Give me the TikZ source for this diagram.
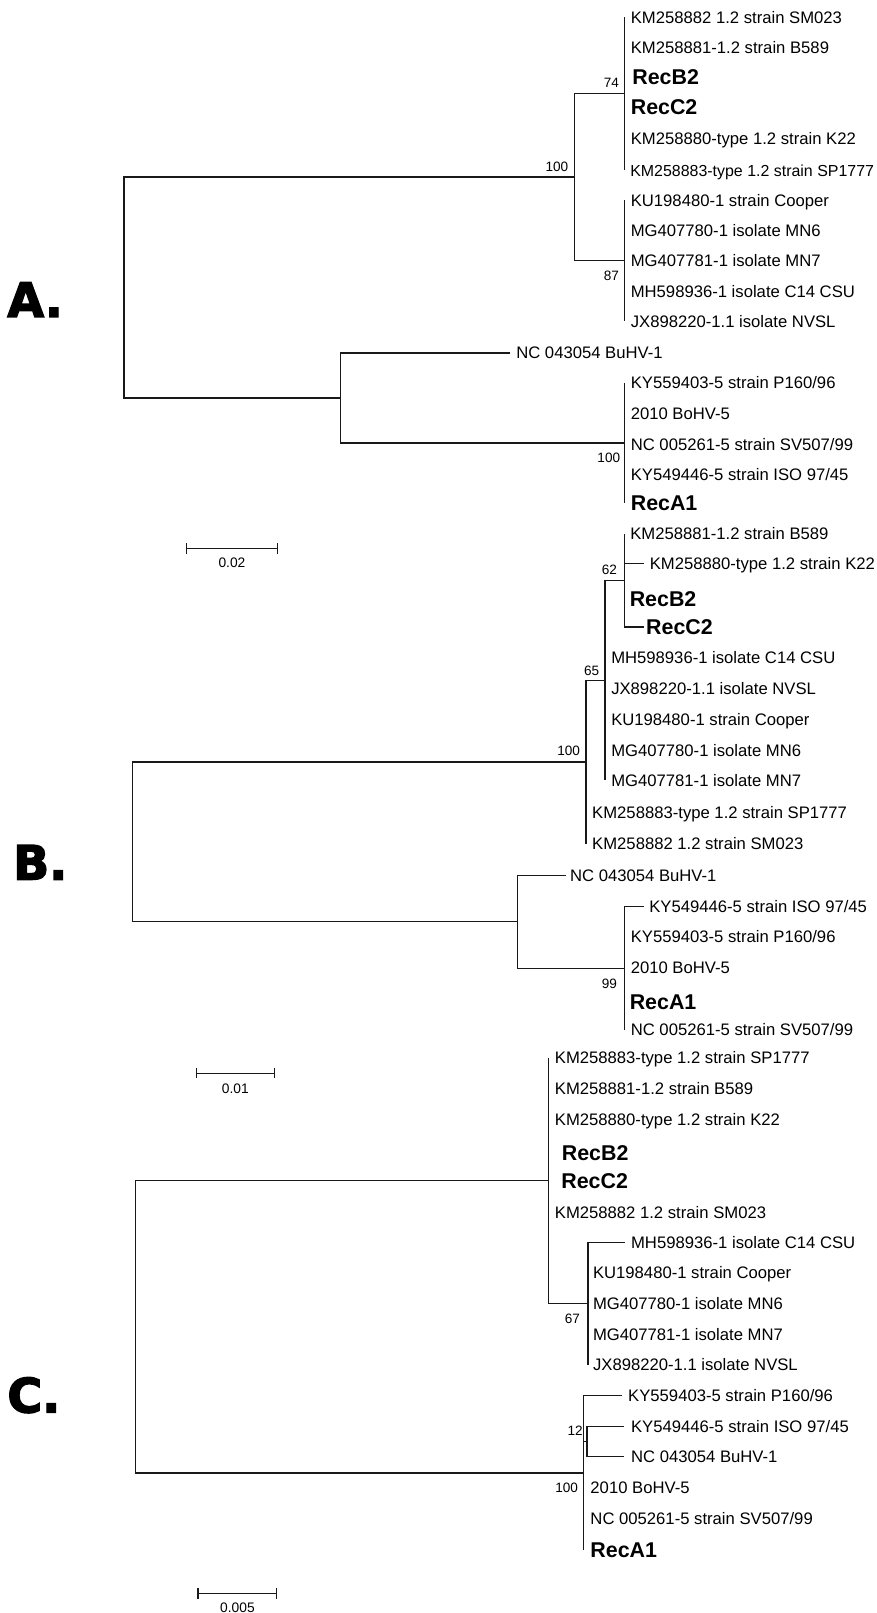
\documentclass[tikz,border=0pt]{standalone}
\usepackage{fontspec}
\setmainfont{Liberation Sans}
\newfontfamily\bigfont{DejaVu Sans Bold}[FakeBold=3]
\newcommand\leaffont{\fontsize{16.2}{18}\selectfont}
\newcommand\edgefont{\fontsize{15.5}{18}\selectfont}
\newcommand\recfont{\fontsize{20.8}{22}\selectfont\bfseries}
\newcommand\bsfont{\fontsize{13.2}{14}\selectfont}
\newcommand\sbfont{\fontsize{13.4}{15}\selectfont}
\newcommand\panelfont{\fontsize{46}{48}\selectfont\bigfont}
\begin{document}
\begin{tikzpicture}[x=1pt,y=-1pt,
  br/.style={line width=1.3pt, draw=black!90},
  leaf/.style={anchor=west, inner sep=0pt, font=\leaffont, text height=11.6pt, text depth=0pt},
  rec/.style={anchor=west, inner sep=0pt, font=\recfont, text height=14.9pt, text depth=0pt},
  boot/.style={anchor=east, inner sep=0pt, font=\bsfont, text height=9.5pt, text depth=0pt},
  sblab/.style={anchor=center, inner sep=0pt, font=\sbfont, text height=9.6pt, text depth=0pt},
  panel/.style={anchor=base west, inner sep=0pt, font=\panelfont}]
\useasboundingbox[fill=white] (0,0) rectangle (852,1568);

% ================= Tree A =================
\node[panel] (pA) at (7,308) {A.};
\coordinate (rootA) at (120.5,279.5);
\coordinate (uA) at (558.5,172.2);
\coordinate (lA) at (330.7,386.8);
\coordinate (n74) at (607,91.1);
\coordinate (n87) at (607,253.4);
\coordinate (n100a) at (607,430.6);
\draw[br] (rootA) |- (uA);
\draw[br] (rootA) |- (lA);
\draw[br] (uA) |- (n74);
\draw[br] (uA) |- (n87);
\draw[br] (lA) |- (n100a);
% 74 clade
\coordinate (a1) at (607,16.9);   \node[leaf] (ta1) at (613,16.9) {KM258882 1.2 strain SM023};
\coordinate (a2) at (607,46.4);   \node[leaf] (ta2) at (613,46.4) {KM258881-1.2 strain B589};
\coordinate (a3) at (607,74.5);   \node[rec]  (ta3) at (614.5,74.5) {RecB2};
\coordinate (a4) at (607,104);    \node[rec]  (ta4) at (613,104) {RecC2};
\coordinate (a5) at (607,134.5);  \node[leaf] (ta5) at (613,134.5) {KM258880-type 1.2 strain K22};
\coordinate (a6) at (607,165.3);  \node[leaf, font=\edgefont] (ta6) at (612.5,165.3) {KM258883-type 1.2 strain SP1777};
\draw[br] (n74) |- (a1);
\draw[br] (n74) |- (a6);
% 87 clade
\coordinate (a7) at (607,194.5);  \node[leaf] (ta7) at (613,194.5) {KU198480-1 strain Cooper};
\coordinate (a8) at (607,223.7);  \node[leaf] (ta8) at (613,223.7) {MG407780-1 isolate MN6};
\coordinate (a9) at (607,252.9);  \node[leaf] (ta9) at (613,252.9) {MG407781-1 isolate MN7};
\coordinate (a10) at (607,283);   \node[leaf] (ta10) at (613,283) {MH598936-1 isolate C14 CSU};
\coordinate (a11) at (607,312.2); \node[leaf] (ta11) at (613,312.2) {JX898220-1.1 isolate NVSL};
\draw[br] (n87) |- (a7);
\draw[br] (n87) |- (a11);
% lower
\coordinate (aBu) at (496,343);   \node[leaf] (taBu) at (501.7,343) {NC 043054 BuHV-1};
\draw[br] (lA) |- (aBu);
\coordinate (a12) at (607,372.2); \node[leaf] (ta12) at (613,372.2) {KY559403-5 strain P160/96};
\coordinate (a13) at (607,402);   \node[leaf] (ta13) at (613,402) {2010 BoHV-5};
\coordinate (a14) at (607,431.8); \node[leaf] (ta14) at (613,431.8) {NC 005261-5 strain SV507/99};
\coordinate (a15) at (607,461);   \node[leaf] (ta15) at (613,461) {KY549446-5 strain ISO 97/45};
\coordinate (a16) at (607,489);   \node[rec]  (ta16) at (613,489) {RecA1};
\draw[br] (n100a) |- (a12);
\draw[br] (n100a) |- (a16);
% bootstrap A
\node[boot] (bA1) at (552.5,161.5) {100};
\node[boot] (bA2) at (601.8,80.4) {74};
\node[boot] (bA3) at (601.8,267.8) {87};
\node[boot] (bA4) at (603,444.8) {100};
% scale A
\coordinate (sA1) at (181.5,533.3);
\coordinate (sA2) at (269.6,533.3);
\draw[br] (sA1) -- (sA2);
\draw[br] ([yshift=5pt]sA1) -- ([yshift=-5pt]sA1);
\draw[br] ([yshift=5pt]sA2) -- ([yshift=-5pt]sA2);
\node[sblab] (sAl) at (225.5,547.2) {0.02};

% ================= Tree B =================
\node[panel] (pB) at (12.6,855) {B.};
\coordinate (rootB) at (129,818);
\coordinate (uB) at (569.5,740.8);
\coordinate (lB) at (503,896.1);
\coordinate (n65) at (588,661.3);
\coordinate (n62) at (607,564.1);
\coordinate (n99) at (607,941.2);
\draw[br] (rootB) |- (uB);
\draw[br] (rootB) |- (lB);
\draw[br] (uB) |- (n65);
\draw[br] (n65) |- (n62);
\draw[br] (lB) |- (n99);
% 62 clade
\coordinate (b1) at (607,518.7);  \node[leaf] (tb1) at (612.5,518.7) {KM258881-1.2 strain B589};
\coordinate (b2) at (626,547.9);  \node[leaf] (tb2) at (631.5,547.9) {KM258880-type 1.2 strain K22};
\coordinate (b3) at (607,581.9);  \node[rec]  (tb3) at (612,581.9) {RecB2};
\coordinate (b4) at (626,609.5);  \node[rec]  (tb4) at (628,609.5) {RecC2};
\draw[br] (n62) |- (b1);
\draw[br] (n62) |- (b2);
\draw[br] (n62) |- (b4);
% 65 clade leaves
\coordinate (b5) at (588,638.7);  \node[leaf] (tb5) at (594,638.7) {MH598936-1 isolate C14 CSU};
\coordinate (b6) at (588,669.5);  \node[leaf] (tb6) at (594,669.5) {JX898220-1.1 isolate NVSL};
\coordinate (b7) at (588,699.3);  \node[leaf] (tb7) at (594,699.3) {KU198480-1 strain Cooper};
\coordinate (b8) at (588,729.4);  \node[leaf] (tb8) at (594,729.4) {MG407780-1 isolate MN6};
\coordinate (b9) at (588,758.6);  \node[leaf] (tb9) at (594,758.6) {MG407781-1 isolate MN7};
\draw[br] (n65) |- (b9);
% 100 node leaves
\coordinate (b10) at (569.5,789.4); \node[leaf] (tb10) at (575.5,789.4) {KM258883-type 1.2 strain SP1777};
\coordinate (b11) at (569.5,820.2); \node[leaf] (tb11) at (575.5,820.2) {KM258882 1.2 strain SM023};
\draw[br] (uB) |- (b11);
% lower
\coordinate (bBu) at (550,851);   \node[leaf] (tbBu) at (554,851) {NC 043054 BuHV-1};
\draw[br] (lB) |- (bBu);
\coordinate (b12) at (626,881.2); \node[leaf] (tb12) at (631,881.2) {KY549446-5 strain ISO 97/45};
\coordinate (b13) at (607,910.3); \node[leaf] (tb13) at (613,910.3) {KY559403-5 strain P160/96};
\coordinate (b14) at (607,940.8); \node[leaf] (tb14) at (613,940.8) {2010 BoHV-5};
\coordinate (b15) at (607,974.2); \node[rec]  (tb15) at (612,974.2) {RecA1};
\coordinate (b16) at (607,1001.1);\node[leaf] (tb16) at (613,1001.1) {NC 005261-5 strain SV507/99};
\draw[br] (n99) |- (b12);
\draw[br] (n99) |- (b16);
% bootstrap B
\node[boot] (bB1) at (600,553.7) {62};
\node[boot] (bB2) at (582.6,651.7) {65};
\node[boot] (bB3) at (564,730) {100};
\node[boot] (bB4) at (600,955.7) {99};
% scale B
\coordinate (sB1) at (191,1043.3);
\coordinate (sB2) at (266.7,1043.3);
\draw[br] (sB1) -- (sB2);
\draw[br] ([yshift=5pt]sB1) -- ([yshift=-5pt]sB1);
\draw[br] ([yshift=5pt]sB2) -- ([yshift=-5pt]sB2);
\node[sblab] (sBl) at (228.8,1057.8) {0.01};

% ================= Tree C =================
\node[panel] (pC) at (7,1373) {C.};
\coordinate (rootC) at (131.9,1290);
\coordinate (uC) at (533,1147.7);
\coordinate (lC) at (567,1431.9);
\coordinate (n67) at (571.5,1267.1);
\coordinate (n12) at (570.6,1401.5);
\draw[br] (rootC) |- (uC);
\draw[br] (rootC) |- (lC);
\draw[br] (uC) |- (n67);
\draw[br] (lC) |- (n12);
% upper leaves
\coordinate (c1) at (533,1028.3); \node[leaf] (tc1) at (539.2,1028.3) {KM258883-type 1.2 strain SP1777};
\coordinate (c2) at (533,1058.5); \node[leaf] (tc2) at (539.2,1058.5) {KM258881-1.2 strain B589};
\coordinate (c3) at (533,1088.6); \node[leaf] (tc3) at (539.2,1088.6) {KM258880-type 1.2 strain K22};
\coordinate (c4) at (533,1121.1); \node[rec]  (tc4) at (546,1121.1) {RecB2};
\coordinate (c5) at (533,1148.3); \node[rec]  (tc5) at (545.5,1148.3) {RecC2};
\coordinate (c6) at (533,1178.4); \node[leaf] (tc6) at (539.2,1178.4) {KM258882 1.2 strain SM023};
\draw[br] (uC) |- (c1);
% 67 clade
\coordinate (c7) at (607.6,1207.6); \node[leaf] (tc7) at (613.3,1207.6) {MH598936-1 isolate C14 CSU};
\coordinate (c8) at (571.5,1237.4); \node[leaf] (tc8) at (576.3,1237.4) {KU198480-1 strain Cooper};
\coordinate (c9) at (571.5,1267.6); \node[leaf] (tc9) at (576.3,1267.6) {MG407780-1 isolate MN6};
\coordinate (c10) at (571.5,1297.6);\node[leaf] (tc10) at (576.3,1297.6) {MG407781-1 isolate MN7};
\coordinate (c11) at (571.5,1326.6);\node[leaf] (tc11) at (576.3,1326.6) {JX898220-1.1 isolate NVSL};
\draw[br] (n67) |- (c7);
\draw[br] (n67) |- (c11);
% lower clade
\coordinate (c12) at (605,1356.8);  \node[leaf] (tc12) at (610.5,1356.8) {KY559403-5 strain P160/96};
\coordinate (c13) at (606.6,1386.9);\node[leaf] (tc13) at (613.3,1386.9) {KY549446-5 strain ISO 97/45};
\coordinate (c14) at (606.6,1416.1);\node[leaf] (tc14) at (613.3,1416.1) {NC 043054 BuHV-1};
\coordinate (c15) at (567,1445.9);  \node[leaf] (tc15) at (573.8,1445.9) {2010 BoHV-5};
\coordinate (c16) at (567,1476);    \node[leaf] (tc16) at (573.8,1476) {NC 005261-5 strain SV507/99};
\coordinate (c17) at (567,1506.9);  \node[rec]  (tc17) at (573.8,1506.9) {RecA1};
\draw[br] (lC) |- (c12);
\draw[br] (lC) |- (c17);
\draw[br] (n12) |- (c13);
\draw[br] (n12) |- (c14);
% bootstrap C
\node[boot] (bC1) at (564,1281.5) {67};
\node[boot] (bC2) at (566.6,1390.8) {12};
\node[boot] (bC3) at (562,1446) {100};
% scale C
\coordinate (sC1) at (192.6,1549);
\coordinate (sC2) at (269.1,1549);
\draw[br] (sC1) -- (sC2);
\draw[br] ([yshift=5pt]sC1) -- ([yshift=-5pt]sC1);
\draw[br] ([yshift=5pt]sC2) -- ([yshift=-5pt]sC2);
\node[sblab] (sCl) at (230.8,1562.6) {0.005};
\end{tikzpicture}
\end{document}
